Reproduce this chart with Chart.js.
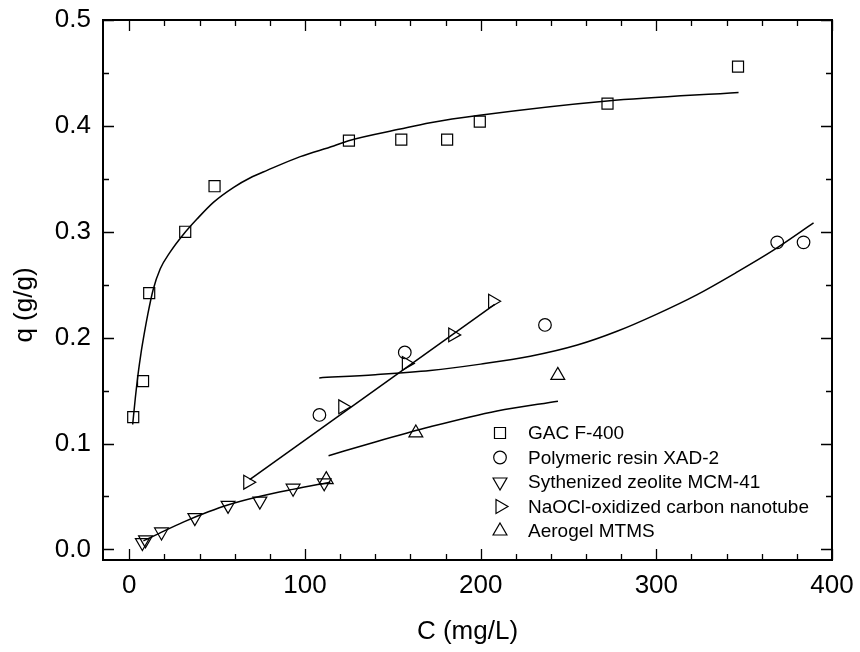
<!DOCTYPE html>
<html lang="en">
<head>
  <meta charset="UTF-8">
  <title>Adsorption isotherms</title>
  <script src="https://cdn.jsdelivr.net/npm/chart.js"></script>
  <style>
    body {
      margin: 0;
      background: #fff;
    }
    canvas {
      display: block;
    }
  </style>
</head>
<body>

  <canvas id="grafico" width="860" height="652"></canvas>

  <script>
    // series names (legend)
    const seriesNames = [
      'GAC F-400',
      'Polymeric resin XAD-2',
      'Sythenized zeolite MCM-41',
      'NaOCl-oxidized carbon nanotube',
      'Aerogel MTMS'
    ];

    // measured points, C (mg/L) and q (g/g)
    const gacC = [2.2, 7.8, 11.3, 31.8, 48.5, 125.0, 154.8, 180.9, 199.5, 272.2, 346.5];
    const gacQ = [0.125, 0.159, 0.242, 0.300, 0.343, 0.386, 0.387, 0.387, 0.404, 0.421, 0.456];

    const resinC = [108.2, 156.8, 236.6, 368.8, 383.8];
    const resinQ = [0.127, 0.186, 0.212, 0.290, 0.290];

    const zeoliteC = [7.4, 9.2, 18.3, 37.3, 56.2, 74.3, 93.2, 110.9];
    const zeoliteQ = [0.0065, 0.0090, 0.0165, 0.030, 0.0416, 0.0456, 0.0578, 0.0629];

    const cntC = [67.4, 121.5, 157.7, 184.1, 206.8];
    const cntQ = [0.0635, 0.1347, 0.1757, 0.2026, 0.2344];

    const aerogelC = [112.1, 163.1, 243.9];
    const aerogelQ = [0.0659, 0.110, 0.1644];

    // fitted curves
    const gacFitC = [1.9, 3.4, 5.0, 6.6, 8.4, 10.5, 13.5, 17.6, 23.3, 30.5, 38.5, 48, 59.4, 68.9, 78.4, 97.3, 116.3, 124.8, 154.2, 171.3, 199.4, 272, 346.8];
    const gacFitQ = [0.118, 0.143, 0.166, 0.185, 0.203, 0.222, 0.245, 0.265, 0.281, 0.297, 0.312, 0.328, 0.342, 0.351, 0.358, 0.371, 0.381, 0.386, 0.397, 0.403, 0.410, 0.4235, 0.4316];

    const resinFitC = [108.1, 140, 171.3, 200, 228.2, 255, 277.6, 300, 323, 345, 366.7, 389.5];
    const resinFitQ = [0.162, 0.165, 0.169, 0.175, 0.1824, 0.193, 0.206, 0.222, 0.2404, 0.261, 0.2826, 0.3083];

    const zeoliteFitC = [8, 17, 31, 45, 56, 74, 93, 114.4];
    const zeoliteFitQ = [0.0080, 0.0152, 0.0260, 0.0355, 0.0420, 0.0500, 0.0567, 0.0635];

    const cntFitC = [68.5, 208];
    const cntFitQ = [0.066, 0.2315];

    const aerogelFitC = [113.4, 140, 171.3, 209.3, 244];
    const aerogelFitQ = [0.0885, 0.1015, 0.1158, 0.1308, 0.140];

    const xTicksMajor = [0, 100, 200, 300, 400];
    const yTicksMajor = [0.0, 0.1, 0.2, 0.3, 0.4, 0.5];

    const pointStyles = [
      { pointStyle: 'rect', rotation: 0, radius: 7.8 },
      { pointStyle: 'circle', rotation: 0, radius: 6.3 },
      { pointStyle: 'triangle', rotation: 180, radius: 8 },
      { pointStyle: 'triangle', rotation: 90, radius: 8 },
      { pointStyle: 'triangle', rotation: 0, radius: 8 }
    ];

    const FONT = 'Arial, "Liberation Sans", Helvetica, sans-serif';
    const INK = '#000';

    function toXY(xs, ys) {
      return xs.map((x, i) => ({ x: x, y: ys[i] }));
    }

    const puntiSerie = [
      toXY(gacC, gacQ),
      toXY(resinC, resinQ),
      toXY(zeoliteC, zeoliteQ),
      toXY(cntC, cntQ),
      toXY(aerogelC, aerogelQ)
    ];
    const curveSerie = [
      toXY(gacFitC, gacFitQ),
      toXY(resinFitC, resinFitQ),
      toXY(zeoliteFitC, zeoliteFitQ),
      toXY(cntFitC, cntFitQ),
      toXY(aerogelFitC, aerogelFitQ)
    ];

    const datasets = [];
    curveSerie.forEach((d, i) => {
      datasets.push({
        label: seriesNames[i] + ' fit',
        data: d,
        showLine: true,
        borderColor: INK,
        borderWidth: 1.5,
        pointRadius: 0,
        cubicInterpolationMode: 'monotone',
        fill: false
      });
    });
    puntiSerie.forEach((d, i) => {
      datasets.push({
        label: seriesNames[i],
        data: d,
        showLine: false,
        borderColor: INK,
        backgroundColor: 'rgba(0,0,0,0)',
        pointBorderWidth: 1.2,
        pointStyle: pointStyles[i].pointStyle,
        pointRotation: pointStyles[i].rotation,
        pointRadius: pointStyles[i].radius
      });
    });

    // frame, inward ticks (major + minor), axis titles and legend
    const cornice = {
      id: 'cornice',
      afterDraw(chart) {
        const ctx = chart.ctx;
        const a = chart.chartArea;
        const xs = chart.scales.x;
        const ys = chart.scales.y;
        ctx.save();
        ctx.strokeStyle = INK;
        ctx.lineWidth = 1.3;
        ctx.beginPath();
        for (let v = 0; v <= 400; v += 20) {
          const px = Math.round(xs.getPixelForValue(v)) + 0.5;
          const len = v % 100 === 0 ? 11 : 6;
          ctx.moveTo(px, a.bottom); ctx.lineTo(px, a.bottom - len);
          ctx.moveTo(px, a.top); ctx.lineTo(px, a.top + len);
        }
        for (let k = 0; k <= 10; k++) {
          const v = k * 0.05;
          const py = Math.round(ys.getPixelForValue(v)) + 0.5;
          const len = k % 2 === 0 ? 11 : 6;
          ctx.moveTo(a.left, py); ctx.lineTo(a.left + len, py);
          ctx.moveTo(a.right, py); ctx.lineTo(a.right - len, py);
        }
        ctx.stroke();

        ctx.lineWidth = 2;
        ctx.strokeRect(a.left, a.top, a.right - a.left, a.bottom - a.top);

        // axis titles
        ctx.fillStyle = INK;
        ctx.font = '26px ' + FONT;
        ctx.textAlign = 'center';
        ctx.textBaseline = 'middle';
        ctx.fillText('C (mg/L)', (a.left + a.right) / 2, 632);
        ctx.save();
        ctx.translate(25, 305);
        ctx.rotate(-Math.PI / 2);
        ctx.fillText('q (g/g)', 0, 0);
        ctx.restore();

        // legend
        ctx.font = '19px ' + FONT;
        ctx.textAlign = 'left';
        const lx = 500, tx = 528, ly0 = 433, dy = 24.5;
        seriesNames.forEach((name, i) => {
          const y = ly0 + i * dy;
          ctx.fillStyle = 'rgba(0,0,0,0)';
          ctx.strokeStyle = INK;
          ctx.lineWidth = 1.2;
          Chart.helpers.drawPoint(ctx, {
            pointStyle: pointStyles[i].pointStyle,
            rotation: pointStyles[i].rotation,
            radius: pointStyles[i].radius,
            borderWidth: 1.2
          }, lx, y);
          ctx.fillStyle = INK;
          ctx.fillText(name, tx, y + 1);
        });
        ctx.restore();
      }
    };

    const ctx = document.getElementById('grafico').getContext('2d');
    const grafico = new Chart(ctx, {
      type: 'scatter',
      data: { datasets: datasets },
      options: {
        responsive: false,
        animation: false,
        events: [],
        layout: { padding: { top: 20, right: 28, bottom: 0, left: 0 } },
        plugins: {
          legend: { display: false },
          tooltip: { enabled: false }
        },
        scales: {
          x: {
            type: 'linear',
            min: -15,
            max: 400,
            afterFit(s) { s.height = 92; s.paddingLeft = 0; s.paddingRight = 0; },
            afterBuildTicks(s) { s.ticks = xTicksMajor.map(v => ({ value: v })); },
            grid: { display: false, drawTicks: false },
            border: { display: false },
            ticks: {
              autoSkip: false,
              maxRotation: 0,
              padding: 10,
              color: INK,
              font: { family: FONT, size: 26 },
              callback: v => String(v)
            }
          },
          y: {
            type: 'linear',
            min: -0.01,
            max: 0.5,
            afterFit(s) { s.width = 103; s.paddingTop = 0; s.paddingBottom = 0; },
            afterBuildTicks(s) { s.ticks = yTicksMajor.map(v => ({ value: v })); },
            grid: { display: false, drawTicks: false },
            border: { display: false },
            ticks: {
              autoSkip: false,
              padding: 12,
              color: INK,
              font: { family: FONT, size: 26 },
              callback: v => Number(v).toFixed(1)
            }
          }
        }
      },
      plugins: [cornice]
    });
  </script>
</body>
</html>
